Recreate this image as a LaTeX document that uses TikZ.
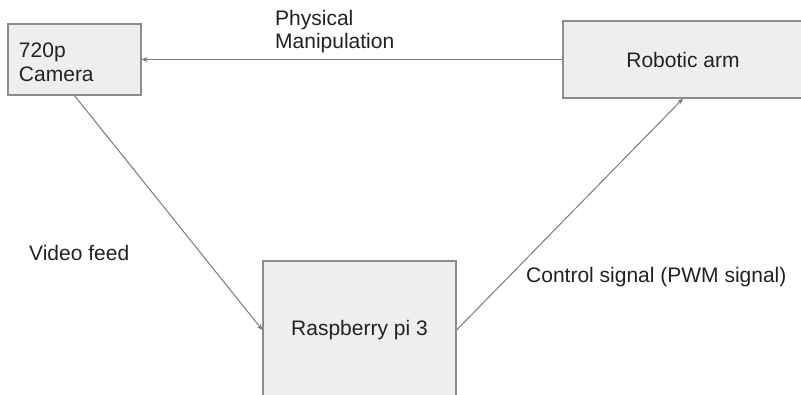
\documentclass[tikz,border=0pt]{standalone}
\usepackage{fontspec}
\setmainfont{Liberation Sans}
\usetikzlibrary{arrows.meta}
\definecolor{boxfill}{HTML}{EEEEEE}
\definecolor{boxline}{HTML}{8C8C8C}
\definecolor{linkcol}{HTML}{7A7A7A}
\definecolor{txt}{HTML}{222222}
\begin{document}
\begin{tikzpicture}[x=1pt,y=-1pt,
  blockbox/.style={draw=boxline,fill=boxfill,line width=1.2pt,rectangle,text=txt,
    font=\fontsize{21}{24}\selectfont},
  link/.style={draw=linkcol,line width=1pt,-{Stealth[length=6pt,width=5pt]}},
  lbl/.style={text=txt,font=\fontsize{21}{23}\selectfont,inner sep=0pt,align=left}]
\useasboundingbox (0,0) rectangle (801,394);
\fill[white] (0,0) rectangle (801,394);
\clip (0,0) rectangle (801,394);
\node[blockbox,minimum width=133pt,minimum height=71pt,text width=111pt,inner xsep=11pt,align=left] (cam) at (74.5,59.5) {\rule{0pt}{21pt}720p\\Camera};
\node[blockbox,minimum width=240pt,minimum height=77pt] (arm) at (683,59.5) {Robotic arm};
\node[blockbox,minimum width=193pt,minimum height=138pt] (pi) at (359.5,330) {Raspberry pi 3};
\draw[link] (arm.west) -- (cam.east);
\draw[link] (cam.south) -- (pi.west);
\draw[link] (pi.east) -- (arm.south);
\node[lbl,anchor=base west] (phys) at (275,48) {Physical\\Manipulation};
\node[lbl,anchor=base west] (vid) at (29,260) {Video feed};
\node[lbl,anchor=base west] (ctl) at (526,282) {Control signal (PWM signal)};
\end{tikzpicture}
\end{document}
